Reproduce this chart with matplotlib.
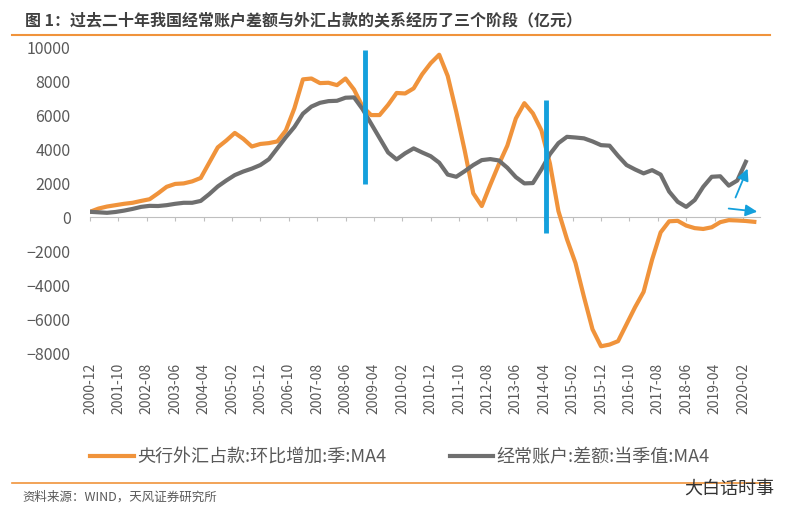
import matplotlib.pyplot as plt
import matplotlib as mpl

plt.rcParams['font.family'] = ['Noto Sans CJK SC', 'DejaVu Sans']

# quarterly data, first point 2000-12
fx_orange = [310, 500, 620, 700, 780, 840, 950, 1050, 1400, 1780,
             1950, 1980, 2100, 2300, 3200, 4100, 4500, 4950, 4600, 4150,
             4300, 4350, 4450, 5100, 6400, 8100, 8150, 7880, 7900, 7760,
             8150, 7500, 6500, 6000, 6000, 6600, 7300, 7270, 7570, 8400,
             9050, 9550, 8300, 6200, 3900, 1400, 650, 1900, 3100, 4200,
             5800, 6700, 6100, 5100, 3150, 350, -1300, -2700, -4700, -6600,
             -7600, -7500, -7300, -6300, -5300, -4400, -2500, -900, -250, -220,
             -500, -650, -700, -600, -300, -180, -200, -230, -280]
ca_gray = [310, 280, 250, 300, 380, 480, 600, 660, 650, 700,
           780, 840, 840, 950, 1350, 1800, 2150, 2470, 2680, 2850,
           3060, 3400, 4050, 4700, 5300, 6080, 6500, 6720, 6820, 6840,
           7020, 7040, 6350, 5500, 4650, 3800, 3390, 3750, 4040, 3800,
           3580, 3200, 2500, 2370, 2700, 3060, 3350, 3410, 3330, 2900,
           2350, 1980, 2000, 2800, 3700, 4350, 4720, 4680, 4630, 4450,
           4230, 4200, 3600, 3060, 2800, 2570, 2760, 2500, 1500, 900,
           600, 1000, 1780, 2370, 2400, 1850, 2150, 3250]

tick_labels = ['2000-12', '2001-10', '2002-08', '2003-06', '2004-04', '2005-02',
               '2005-12', '2006-10', '2007-08', '2008-06', '2009-04', '2010-02',
               '2010-12', '2011-10', '2012-08', '2013-06', '2014-04', '2015-02',
               '2015-12', '2016-10', '2017-08', '2018-06', '2019-04', '2020-02']

# stage separators (month offset from 2000-12, y range)
stage_x = [97, 160.5]
stage_y = [(1950, 9800), (-960, 6900)]

orange = '#F0933B'
gray = '#6F6F6F'
blue = '#14A0DC'

fig = plt.figure(figsize=(8, 5.2), dpi=100)
ax = fig.add_axes([0.1125, 0.321, 0.8375, 0.5885])

mx_o = [3 * i for i in range(len(fx_orange))]
mx_g = [3 * i for i in range(len(ca_gray))]
ax.plot(mx_o, fx_orange, color=orange, lw=3, solid_joinstyle='round', zorder=3,
        label='央行外汇占款:环比增加:季:MA4')
ax.plot(mx_g, ca_gray, color=gray, lw=3, solid_joinstyle='round', zorder=3,
        label='经常账户:差额:当季值:MA4')

for x, (y0, y1) in zip(stage_x, stage_y):
    ax.plot([x, x], [y0, y1], color=blue, lw=3.5, zorder=4, solid_capstyle='butt')

ax.annotate('', xy=(232, 3000), xytext=(227, 1000),
            arrowprops=dict(arrowstyle='-|>,head_width=0.35,head_length=0.7', color=blue, lw=1.3))
ax.annotate('', xy=(236, 300), xytext=(224, 520),
            arrowprops=dict(arrowstyle='-|>,head_width=0.35,head_length=0.7', color=blue, lw=1.3))

ticks = [10 * i for i in range(len(tick_labels))]
ax.set_xlim(0, 236)
ax.set_ylim(-8000, 10000)
ax.set_yticks(range(-8000, 10001, 2000))
ax.set_xticks(ticks)
ax.set_xticklabels([])
ax.tick_params(axis='y', length=0, labelsize=11.5, labelcolor='#595959', pad=14)
ax.tick_params(axis='x', length=3, color='#BFBFBF')

ax.spines['bottom'].set_position(('data', 0))
ax.spines['bottom'].set_color('#BFBFBF')
for s in ['top', 'right', 'left']:
    ax.spines[s].set_visible(False)

# date labels sit below the plot area
sec = ax.secondary_xaxis('bottom')
sec.set_xticks(ticks)
sec.set_xticklabels(tick_labels, rotation=90, fontsize=10, color='#595959')
sec.tick_params(length=0, pad=7)
sec.spines['bottom'].set_visible(False)

leg = fig.legend(loc='center', bbox_to_anchor=(0.5, 0.12), ncol=2, frameon=False,
                 fontsize=13, handlelength=2.4, columnspacing=3.5, handletextpad=0.2)
for t in leg.get_texts():
    t.set_color('#595959')

fig.text(0.031, 0.962, '图 1：过去二十年我国经常账户差额与外汇占款的关系经历了三个阶段（亿元）',
         fontsize=11.5, fontweight='bold', color='#404040', va='center')
fig.add_artist(mpl.lines.Line2D([0.015, 0.963], [0.932, 0.932], color=orange, lw=1.5))
fig.add_artist(mpl.lines.Line2D([0.015, 0.963], [0.072, 0.072], color=orange, lw=1.2))
fig.text(0.028, 0.043, '资料来源：WIND，天风证券研究所', fontsize=9, color='#595959', va='center')
fig.text(0.855, 0.06, '大白话时事', fontsize=13, color='#333333', va='center')

fig.savefig('out.png', dpi=100, facecolor='white')
